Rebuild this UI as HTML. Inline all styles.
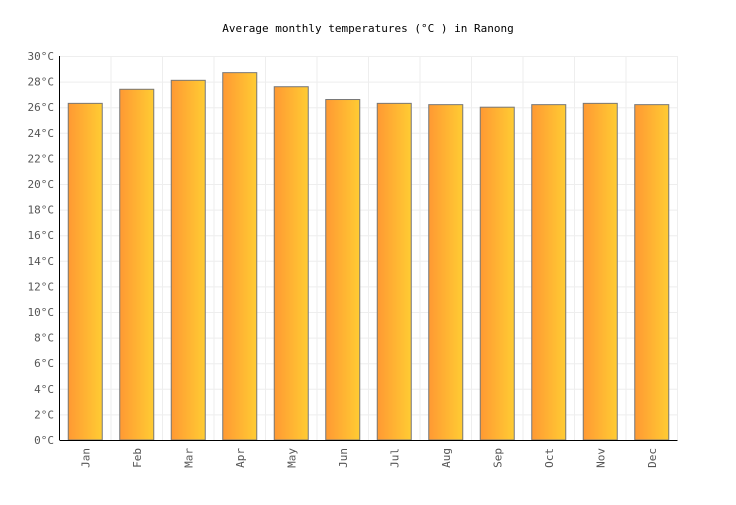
<!DOCTYPE html>
<html><head><meta charset="utf-8"><style>
body{margin:0;background:#fff}
svg text{font-family:"DejaVu Sans Mono","Liberation Mono",monospace;}
</style></head><body>
<svg width="736" height="500" xmlns="http://www.w3.org/2000/svg">
<defs><linearGradient id="g" x1="0" x2="1" y1="0" y2="0"><stop offset="0" stop-color="#ff9933"/><stop offset="1" stop-color="#ffcc33"/></linearGradient></defs>
<text x="368" y="32" text-anchor="middle" font-size="11" fill="#000">Average monthly temperatures (°C ) in Ranong</text>
<g id="grid"></g><g id="bars"></g><g id="axes"></g>
</svg>
<script>
const months=["Jan","Feb","Mar","Apr","May","Jun","Jul","Aug","Sep","Oct","Nov","Dec"];
const temps=[26.3,27.4,28.1,28.7,27.6,26.6,26.3,26.2,26.0,26.2,26.3,26.2];
const yTicks=[0,2,4,6,8,10,12,14,16,18,20,22,24,26,28,30];
const NS="http://www.w3.org/2000/svg";
const x0=59.5,x1=677.5,y0=440,y1=56,yMax=30;
const cw=(x1-x0)/months.length;
const y=v=>y0-(v/yMax)*(y0-y1);
const xc=i=>x0+cw*i;
function mk(t,a,p){const e=document.createElementNS(NS,t);for(const k in a)e.setAttribute(k,a[k]);p.appendChild(e);return e;}
const grid=document.getElementById('grid'),bars=document.getElementById('bars'),axes=document.getElementById('axes');
yTicks.forEach(v=>{
 const l=mk('line',{x1:x0,x2:x1,y1:y(v)+0.5,y2:y(v)+0.5,stroke:'#eeeeee'},grid);
 
 
 const t=mk('text',{x:54,y:y(v)+4,'text-anchor':'end','font-size':'11',fill:'#555'},axes);
 t.textContent=v+'°C';
 
 
});
for(let i=1;i<=months.length;i++){
 const l=mk('line',{x1:xc(i),x2:xc(i),y1:y1,y2:y0,stroke:'#eeeeee'},grid);
 
 
}
months.forEach((m,i)=>{
 const bw=34,bx=xc(i)+(cw-bw)/2;
 const r=mk('rect',{x:bx,y:y(temps[i]),width:bw,height:y0-y(temps[i]),fill:'url(#g)',stroke:'#777','stroke-width':1},bars);
 
 
 const cx=xc(i)+cw/2+4;
 const t=mk('text',{x:cx,y:448,'text-anchor':'end','font-size':'11',fill:'#555',transform:`rotate(-90 ${cx} 448)`},axes);
 t.textContent=m;
 
 
});
const ya=mk('line',{x1:x0,x2:x0,y1:y1,y2:y0,stroke:'#000'},axes);


const xa=mk('line',{x1:x0,x2:x1,y1:y0+0.5,y2:y0+0.5,stroke:'#000'},axes);


</script>
</body></html>
